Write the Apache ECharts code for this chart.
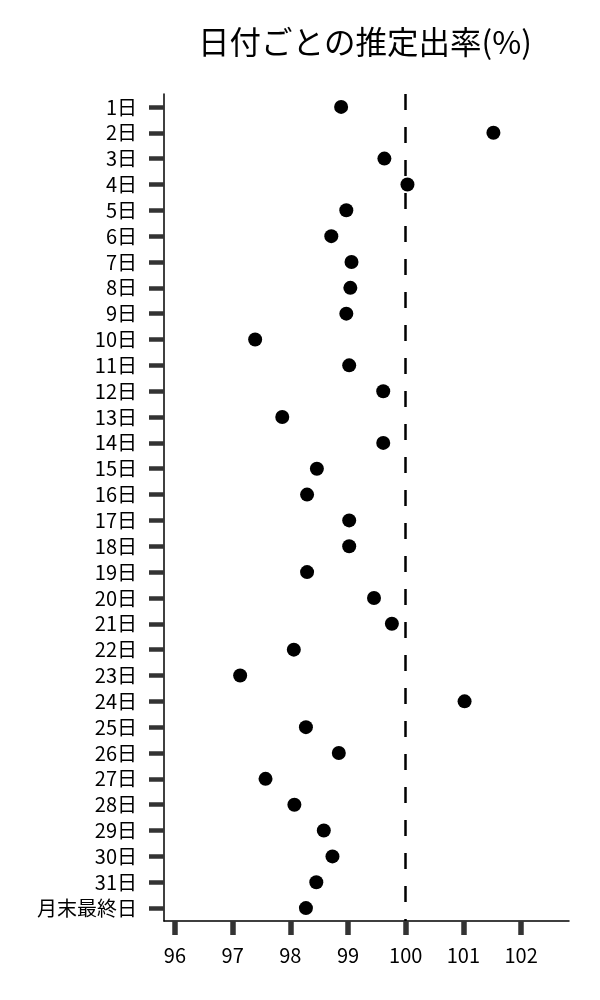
<!DOCTYPE html>
<html>
<head>
<meta charset="utf-8">
<script src="https://cdn.jsdelivr.net/npm/echarts@6/dist/echarts.min.js"></script>
<style>
  html, body { margin: 0; padding: 0; background: #fff; }
  #chart { width: 600px; height: 1000px; }
</style>
</head>
<body>
<div id="chart"></div>
<script>
  // 日付ラベル
  var days = ['1日','2日','3日','4日','5日','6日','7日','8日','9日','10日',
    '11日','12日','13日','14日','15日','16日','17日','18日','19日','20日',
    '21日','22日','23日','24日','25日','26日','27日','28日','29日','30日',
    '31日','月末最終日'];
  // 推定出率(%)
  var rates = [98.88, 101.52, 99.63, 100.03, 98.97, 98.71, 99.06, 99.04, 98.97, 97.39,
    99.02, 99.61, 97.86, 99.61, 98.46, 98.29, 99.02, 99.02, 98.29, 99.45,
    99.76, 98.06, 97.13, 101.02, 98.27, 98.84, 97.57, 98.07, 98.58, 98.73,
    98.45, 98.27];
  var xTicks = [96, 97, 98, 99, 100, 101, 102];
  var refValue = 100;  //基準線

  var points = [];
  for (var i = 0; i < days.length; i++) {
    points.push([rates[i], days[i]]);
  }

  var font = '"Noto Sans CJK JP", "Noto Sans", sans-serif';
  var myChart = echarts.init(document.getElementById('chart'));
  var option = {
    animation: false,
    title: {
      text: '日付ごとの推定出率(%)',
      left: 193,
      top: 21,
      textStyle: { fontFamily: font, fontSize: 31.5, fontWeight: 'normal', color: '#000' }
    },
    grid: { left: 164, right: 31, top: 94, bottom: 79 },
    xAxis: {
      type: 'value',
      min: 95.81,
      max: 102.83,
      splitLine: { show: false },
      axisLine: { show: true, lineStyle: { color: '#000', width: 1.5 } },
      axisTick: {
        show: true,
        length: 14,
        customValues: xTicks,
        lineStyle: { color: '#333', width: 5.5 }
      },
      axisLabel: {
        customValues: xTicks,
        margin: 24,
        fontFamily: font,
        fontSize: 20,
        color: '#000'
      }
    },
    yAxis: {
      type: 'category',
      data: days,
      inverse: true,
      axisLine: { show: true, lineStyle: { color: '#000', width: 1.5 } },
      axisTick: {
        show: true,
        alignWithLabel: true,
        length: 15,
        lineStyle: { color: '#333', width: 4.5 }
      },
      axisLabel: {
        margin: 27,
        interval: 0,
        fontFamily: font,
        fontSize: 20,
        color: '#000'
      },
      splitLine: { show: false }
    },
    series: [{
      type: 'scatter',
      data: points,
      symbolSize: 14,
      itemStyle: { color: '#000', opacity: 1 },
      markLine: {
        silent: true,
        symbol: 'none',
        label: { show: false },
        lineStyle: { color: '#000', width: 2.5, type: [16, 17], opacity: 1 },
        data: [{ xAxis: refValue }]
      }
    }]
  };
  myChart.setOption(option);
</script>
</body>
</html>
